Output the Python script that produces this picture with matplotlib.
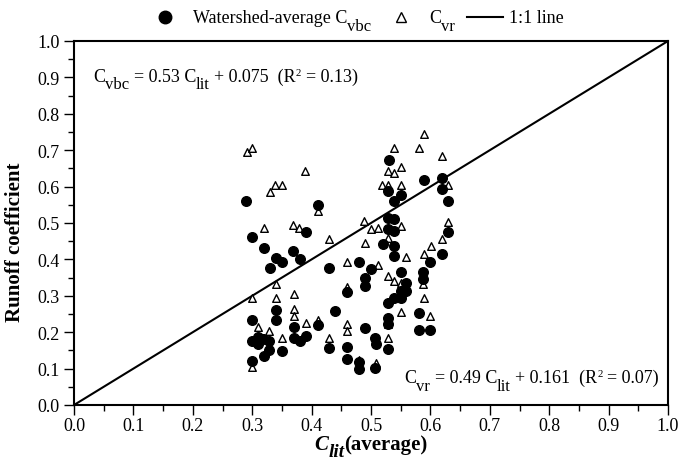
import matplotlib
matplotlib.use("Agg")
import matplotlib.pyplot as plt
from matplotlib.lines import Line2D
from matplotlib.ticker import MultipleLocator, FormatStrFormatter
from matplotlib.transforms import offset_copy

# watershed-average C_vbc (filled circles)
vbc_x = [0.290, 0.300, 0.320, 0.369, 0.340, 0.350, 0.380, 0.390, 0.330, 0.340,
         0.340, 0.300, 0.370, 0.300, 0.309, 0.310, 0.319, 0.329, 0.370, 0.380,
         0.390, 0.329, 0.350, 0.320, 0.300, 0.410, 0.429, 0.480, 0.500, 0.490,
         0.490, 0.459, 0.439, 0.410, 0.490, 0.507, 0.429, 0.459, 0.459, 0.479,
         0.479, 0.507, 0.531, 0.589, 0.619, 0.619, 0.529, 0.550, 0.539, 0.529,
         0.539, 0.529, 0.539, 0.520, 0.539, 0.539, 0.619, 0.599, 0.588, 0.588,
         0.550, 0.559, 0.550, 0.559, 0.539, 0.550, 0.529, 0.580, 0.529, 0.529,
         0.580, 0.599, 0.508, 0.529, 0.630, 0.630]
vbc_y = [0.561, 0.461, 0.430, 0.424, 0.403, 0.392, 0.401, 0.474, 0.376, 0.262,
         0.234, 0.233, 0.213, 0.177, 0.186, 0.168, 0.181, 0.177, 0.184, 0.177,
         0.190, 0.152, 0.149, 0.134, 0.122, 0.549, 0.376, 0.394, 0.374, 0.348,
         0.328, 0.310, 0.259, 0.220, 0.212, 0.183, 0.156, 0.158, 0.126, 0.117,
         0.099, 0.102, 0.674, 0.618, 0.623, 0.593, 0.589, 0.577, 0.561, 0.513,
         0.511, 0.484, 0.479, 0.442, 0.438, 0.410, 0.415, 0.392, 0.365, 0.346,
         0.365, 0.335, 0.314, 0.314, 0.293, 0.293, 0.280, 0.253, 0.238, 0.223,
         0.207, 0.207, 0.168, 0.154, 0.561, 0.474]

# C_vr (open triangles)
vr_x = [0.291, 0.299, 0.389, 0.338, 0.350, 0.330, 0.320, 0.369, 0.379, 0.340,
        0.300, 0.340, 0.370, 0.370, 0.370, 0.390, 0.309, 0.329, 0.320, 0.350,
        0.300, 0.410, 0.429, 0.410, 0.430, 0.459, 0.459, 0.459, 0.459, 0.489,
        0.500, 0.490, 0.479, 0.508, 0.589, 0.539, 0.580, 0.619, 0.529, 0.539,
        0.550, 0.518, 0.529, 0.550, 0.550, 0.511, 0.529, 0.601, 0.619, 0.559,
        0.589, 0.511, 0.529, 0.539, 0.550, 0.588, 0.589, 0.550, 0.599, 0.529,
        0.529, 0.630, 0.630]
vr_y = [0.694, 0.705, 0.644, 0.605, 0.605, 0.586, 0.485, 0.494, 0.485, 0.332,
        0.293, 0.293, 0.305, 0.264, 0.244, 0.224, 0.213, 0.204, 0.184, 0.184,
        0.104, 0.534, 0.456, 0.234, 0.183, 0.394, 0.223, 0.202, 0.325, 0.506,
        0.484, 0.444, 0.125, 0.115, 0.745, 0.705, 0.705, 0.685, 0.644, 0.637,
        0.655, 0.605, 0.605, 0.605, 0.493, 0.485, 0.458, 0.436, 0.456, 0.406,
        0.415, 0.385, 0.355, 0.341, 0.335, 0.332, 0.293, 0.256, 0.244, 0.223,
        0.183, 0.605, 0.504]

# text pieces: (string, kind) - kind is txt / sub / sup / gap, "it" suffix = italic
vbc_eq = [("C", "txt"), ("vbc", "sub"), ("", "gap"), ("= 0.53 C", "txt"),
          ("lit", "sub"), ("", "gap"), ("+ 0.075  (R", "txt"), ("2", "sup"),
          ("", "gap"), ("= 0.13)", "txt")]
vr_eq = [("C", "txt"), ("vr", "sub"), ("", "gap"), ("= 0.49 C", "txt"),
         ("lit", "sub"), ("", "gap"), ("+ 0.161  (R", "txt"), ("2", "sup"),
         ("", "gap"), ("= 0.07)", "txt")]
xlabel = [("C", "it"), ("lit", "subit"), ("(average)", "txt")]
leg_labels = [[("Watershed-average C", "txt"), ("vbc", "sub")],
              [("C", "txt"), ("vr", "sub")],
              [("1:1 line", "txt")]]

plt.rcParams["font.family"] = "Liberation Serif"

W, H = 678, 464
fig = plt.figure(figsize=(W / 100, H / 100), dpi=100)
ax = fig.add_axes([74 / W, 1 - 406 / H, 594 / W, 364 / H])
renderer = fig.canvas.get_renderer()


def rich_text(base, x, y, pieces, size, ha="left", weight="normal", drop=0.42):
    arts = []
    dx = 0.0
    for s, kind in pieces:
        if kind == "gap":
            dx += size * 0.25
            continue
        fs, dy = size, 0.0
        if kind.startswith("sub"):
            fs, dy = size * 0.92, -size * drop
        elif kind == "sup":
            fs, dy = size * 0.6, size * 0.33
        style = "italic" if kind.endswith("it") else "normal"
        t = fig.text(x, y, s, fontsize=fs, fontstyle=style, fontweight=weight,
                     va="baseline", ha="left",
                     transform=offset_copy(base, fig=fig, x=dx, y=dy, units="points"))
        arts.append((t, dx, dy))
        dx += t.get_window_extent(renderer).width * 72 / fig.dpi
    shift = {"left": 0.0, "center": -dx / 2, "right": -dx}[ha]
    for t, ox, oy in arts:
        t.set_transform(offset_copy(base, fig=fig, x=ox + shift, y=oy, units="points"))
    return dx


ax.plot([0, 1], [0, 1], color="black", lw=1.5, zorder=1)
ax.scatter(vr_x, vr_y, marker="^", s=30, facecolors="white",
           edgecolors="black", linewidths=1.0, zorder=2)
ax.scatter(vbc_x, vbc_y, marker="o", s=48, color="black", zorder=3)

rich_text(ax.transAxes, 0.032, 0.891, vbc_eq, 13)
rich_text(ax.transAxes, 0.985, 0.063, vr_eq, 13, ha="right")

ax.set_xlim(0, 1)
ax.set_ylim(0, 1)
ax.xaxis.set_major_locator(MultipleLocator(0.1))
ax.xaxis.set_minor_locator(MultipleLocator(0.05))
ax.yaxis.set_major_locator(MultipleLocator(0.1))
ax.yaxis.set_minor_locator(MultipleLocator(0.05))
ax.xaxis.set_major_formatter(FormatStrFormatter("%.1f"))
ax.yaxis.set_major_formatter(FormatStrFormatter("%.1f"))
ax.tick_params(which="major", direction="out", length=7, width=1, labelsize=13)
ax.tick_params(axis="x", which="major", pad=1.5)
ax.tick_params(which="minor", direction="out", length=4, width=1)
for sp in ax.spines.values():
    sp.set_linewidth(1.5)

# axis titles
rich_text(ax.transAxes, 0.5, -0.122, xlabel, 15, ha="center", weight="bold",
          drop=0.33)
ax.set_ylabel("Runoff coefficient", fontsize=15, fontweight="bold")
ax.yaxis.set_label_coords(-0.082, 0.45)

# legend above the plot, drawn by hand
leg_y = 1 - 18 / H
fig.add_artist(Line2D([165 / W], [leg_y], marker="o", color="black",
                      markersize=9, transform=fig.transFigure))
fig.add_artist(Line2D([401 / W], [leg_y], marker="^", markerfacecolor="white",
                      markeredgecolor="black", markersize=7,
                      transform=fig.transFigure))
fig.add_artist(Line2D([467 / W, 503 / W], [leg_y, leg_y], color="black",
                      lw=1.5, transform=fig.transFigure))
for x_px, pieces in zip([193, 429, 509], leg_labels):
    rich_text(fig.transFigure, x_px / W, 1 - 23 / H, pieces, 13)

fig.savefig("out.png", dpi=100)
